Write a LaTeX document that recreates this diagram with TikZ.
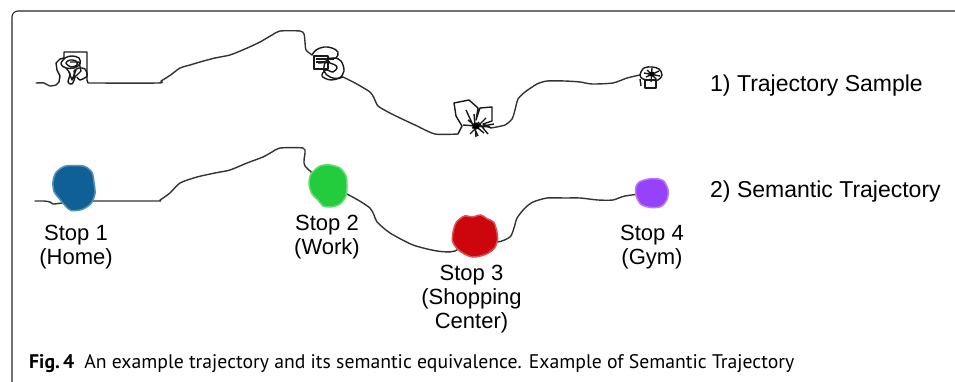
\documentclass[tikz,border=0pt]{standalone}
\usepackage{fontspec}
\newfontfamily\labelfont{Liberation Sans}
\newfontfamily\capfont{PT Sans}
\usetikzlibrary{positioning}
\definecolor{homeblue}{RGB}{16,96,152}
\definecolor{workgreen}{RGB}{34,204,60}
\definecolor{shopred}{RGB}{204,6,12}
\definecolor{gympurple}{RGB}{150,66,250}
\tikzset{
    %Define style for the recorded track
    trace/.style={
           draw=black!80,
           line width=1.4pt,
           line join=round,
           line cap=round},
    %Define style for the scribbles at a stay
    scribble/.style={
           draw=black!90,
           line width=1.4pt,
           line join=round},
    %Define style for the stop spots
    spot/.style={
           inner sep=0pt,
           outer sep=0pt},
    stoplabel/.style={
           inner sep=0pt,
           align=center,
           font=\labelfont\fontsize{22}{24}\selectfont},
    rowlabel/.style={
           inner sep=0pt,
           anchor=base west,
           font=\labelfont\fontsize{23}{27}\selectfont},
    caption/.style={
           inner sep=0pt,
           anchor=base west,
           font=\capfont\fontsize{19.7}{23}\selectfont},
    frame/.style={
           draw=black!85,
           line width=1.1pt,
           rounded corners=6pt}
}

\begin{document}
\begin{tikzpicture}[x=1pt,y=-1pt]
\useasboundingbox (0,0) rectangle (955,382);
\draw[frame] (955,11) -- (12,11) -- (12,382);

 %raw trajectory
\coordinate (t0) at (36,83);
\coordinate (h0in) at (56,85);
\coordinate (h0out) at (88,83);
\coordinate (w0in) at (312,55);
\coordinate (w0out) at (343,77);
\coordinate (s0in) at (458,134);
\coordinate (s0out) at (491,128);
\coordinate (g0in) at (640,75);
\draw[trace] plot[smooth, tension=.4] coordinates {(t0) (44,83) (50,86) (h0in)};
\draw[trace] plot[smooth, tension=.4] coordinates {(h0out) (158,83) (161,81) (166,78) (172,74) (180,68) (190,65) (200,62) (215,58) (230,55) (245,49) (260,42) (272,35) (280,31) (300,31) (304,34) (305,42) (306,50) (w0in)};
\draw[trace] plot[smooth, tension=.4] coordinates {(w0out) (355,83) (370,92) (374,98) (378,106) (388,112) (400,118) (415,125) (435,134) (s0in)};
\draw[trace] plot[smooth, tension=.4] coordinates {(s0out) (505,125) (512,119) (515,110) (518,99) (525,92) (537,84) (547,81) (565,81) (580,82) (592,84) (613,83) (627,78) (g0in)};

 %scribbles at the stays
\draw[scribble] (h0in) -- (59,82) -- (60,76) -- (57,70) -- (56,63) -- (60,59) -- (64,58) -- (64,52) -- (87,52) -- (87,80) -- (h0out);
\draw[scribble] plot[smooth cycle, tension=.6] coordinates {(61,64) (65,58) (72,56) (79,58) (80,64) (74,68) (66,68)};
\draw[scribble] plot[smooth cycle, tension=.6] coordinates {(66,63) (70,60) (76,61) (77,65) (71,67)};
\draw[scribble] plot[smooth, tension=.5] coordinates {(66,68) (70,74) (68,82) (72,84) (75,77) (74,71) (79,68) (85,69) (87,76) (80,80) (77,77)};
\draw[scribble] (70,62) -- (79,62) -- (81,71) -- (73,79) (69,72) -- (72,80) -- (76,70);

\draw[scribble] plot[smooth, tension=.6] coordinates {(w0in) (316,50) (324,47) (332,48) (338,52) (336,58) (328,58)};
\draw[scribble] (314,56) rectangle (328,69);
\draw[scribble] (316,59) -- (334,59) (316,62) -- (330,62);
\draw[scribble] plot[smooth cycle, tension=.6] coordinates {(326,61) (334,58) (341,61) (344,71) (339,78) (330,77) (324,71)};
\draw[scribble] plot[smooth, tension=.6] coordinates {(318,63) (330,63) (337,67) (333,72) (326,70) (322,76) (331,80) (w0out)};

\draw[scribble] (s0in) -- (462,126) -- (456,116) -- (454,103) -- (469,100) -- (478,108) -- (476,120) -- (480,108) -- (492,107) -- (492,121) -- (483,124) -- (s0out);
\draw[scribble] (466,110) -- (478,136) (470,134) -- (486,118) (463,125) -- (490,127) (474,114) -- (476,137) (468,120) -- (484,133) (478,122) -- (488,134) (472,128) -- (494,124);
\fill (476,126) circle (3.5);

\draw[scribble] plot[smooth cycle, tension=.6] coordinates {(g0in) (644,68) (652,67) (659,69) (662,75) (658,80) (650,80) (643,79)};
\draw[scribble] (645,80) rectangle (656,88);
\draw[scribble] (647,70) -- (656,79) (646,77) -- (659,71) (652,68) -- (651,82) (644,73) -- (660,76);
\draw[scribble] (640,79) -- (641,86);
\fill (652,74) circle (2.5);

 %stops
\node[spot, minimum width=42pt, minimum height=45pt] (home) at (74,187.5) {};
\node[spot, minimum width=39pt, minimum height=42pt] (work) at (328,186) {};
\node[spot, minimum width=45pt, minimum height=42pt] (shop) at (474.5,236) {};
\node[spot, minimum width=33pt, minimum height=29pt] (gym) at (652,192.5) {};
\coordinate (b0) at (35,201);

 %semantic trajectory
\draw[trace] plot[smooth, tension=.4] coordinates {(b0) (44,201) (50,202) (53,204) (62,203) (74,201) (home)};
\draw[trace] plot[smooth, tension=.4] coordinates {(home) (82,201) (95,201) (157,201) (160,200) (170,193) (180,183) (197,177) (215,173) (230,170) (247,163) (263,157) (272,152) (280,148) (303,148) (305,153) (305,166) (work)};
\draw[trace] plot[smooth, tension=.4] coordinates {(work) (340,190) (345,193) (358,200) (370,208) (374,215) (377,222) (390,233) (413,245) (437,251) (455,251) (shop)};
\draw[trace] plot[smooth, tension=.4] coordinates {(shop) (497,242) (510,237) (514,228) (517,218) (525,208) (533,202) (547,198) (565,198) (580,198) (598,200) (613,200) (625,196) (gym)};

\filldraw[fill=homeblue, draw=homeblue!70!white, line width=1.5pt, shift={(home.center)}] plot[smooth cycle] coordinates {(-10,-21) (0,-22) (11,-21) (18,-15) (20,-5) (21,6) (17,16) (8,22) (-3,23) (-9,18) (-14,12) (-20,4) (-21,-6) (-18,-15)};
\filldraw[fill=workgreen, draw=workgreen!70!white, line width=1.5pt, shift={(work.center)}] plot[smooth cycle] coordinates {(-8,-20) (2,-21) (12,-18) (18,-10) (19,0) (18,10) (12,18) (3,21) (-5,20) (-10,14) (-16,8) (-19,-2) (-17,-12)};
\filldraw[fill=shopred, draw=shopred!70!white, line width=1.5pt, shift={(shop.center)}] plot[smooth cycle] coordinates {(-18,-14) (-10,-20) (-2,-19) (6,-21) (13,-17) (19,-14) (22,-6) (23,4) (20,12) (14,17) (6,20) (-2,21) (-10,18) (-17,13) (-22,5) (-21,-6)};
\filldraw[fill=gympurple, draw=gympurple!70!white, line width=1.5pt, shift={(gym.center)}] plot[smooth cycle] coordinates {(-12,-11) (0,-14) (11,-12) (16,-3) (15,7) (9,14) (-1,15) (-11,12) (-16,3) (-16,-6)};

 %labels
\node[stoplabel, below=15pt of home, xshift=2pt] (homelbl) {Stop 1\\(Home)};
\node[stoplabel, below=8pt of work, xshift=-1pt] (worklbl) {Stop 2\\(Work)};
\node[stoplabel, below=8pt of shop, xshift=-3pt] (shoplbl) {Stop 3\\(Shopping\\Center)};
\node[stoplabel, below=18pt of gym] (gymlbl) {Stop 4\\(Gym)};
\node[rowlabel] (sample) at (710,92) {1) Trajectory Sample};
\node[rowlabel] (semantic) at (710,197) {2) Semantic Trajectory};
\node[caption] (figcap) at (29,368) {\textbf{Fig.\,4}\hspace{10pt}An example trajectory and its semantic equivalence. Example of Semantic Trajectory};
\end{tikzpicture}
\end{document}
